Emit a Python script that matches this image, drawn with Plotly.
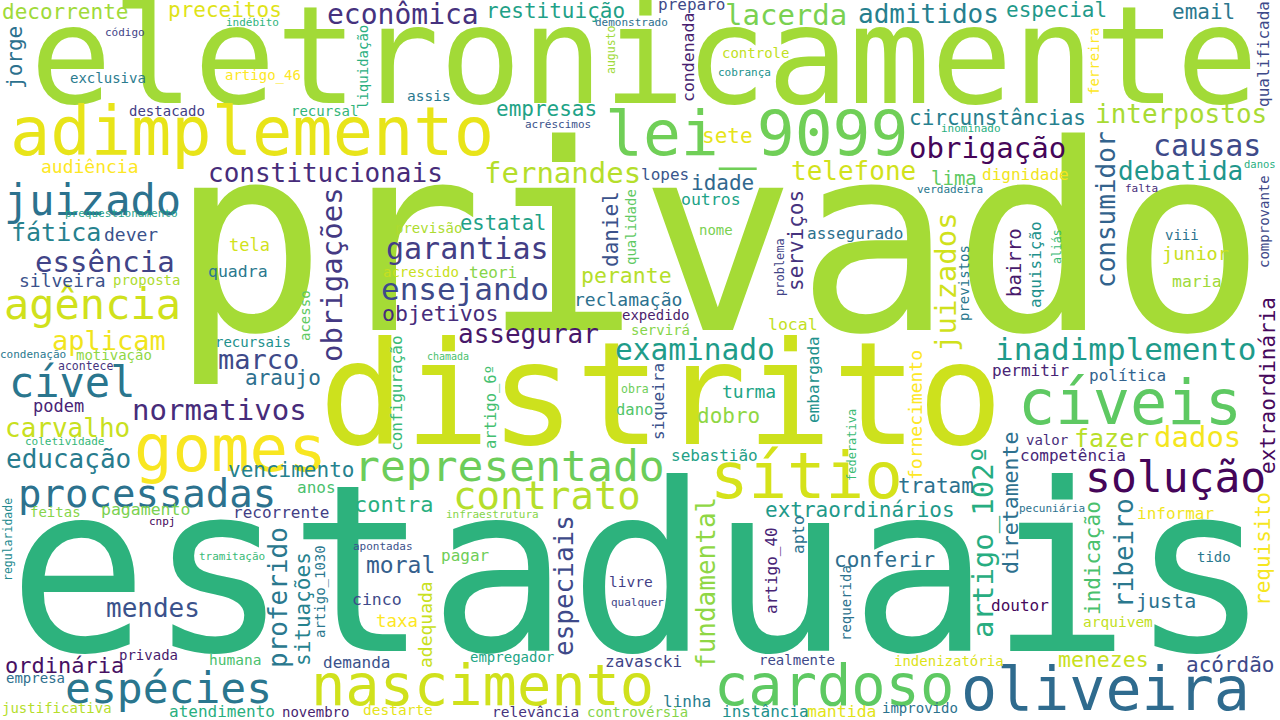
import plotly.graph_objects as go

WORDS = ["decorrente","preceitos","econômica","indébito","código","jorge","exclusiva","artigo_46","liquidação","assis",
"adimplemento","destacado","recursal","audiência","constitucionais","juizado","prequestionamento","fática","dever","obrigações",
"previsão","restituição","preparo","lacerda","demonstrado","condenada","augusto","controle","cobrança","empresas",
"acréscimos","lei_9099","sete","fernandes","telefone","lopes","idade","daniel","qualidade","outros",
"serviços","estatal","nome","assegurado","eletronicamente","admitidos","especial","email","qualificada","ferreira",
"circunstâncias","interpostos","inominado","obrigação","causas","consumidor","debatida","lima","dignidade","danos",
"verdadeira","falta","comprovante","viii","juizados","aquisição","bairro","aliás","junior","maria",
"previstos","extraordinária","inadimplemento","permitir","política","cíveis","solução","fazer","dados","valor",
"competência","essência","tela","silveira","proposta","quadra","agência","aplicam","condenação","motivação",
"acontece","cível","normativos","podem","carvalho","coletividade","educação","gomes","garantias","acrescido",
"teori","ensejando","objetivos","perante","reclamação","expedido","servirá","local","assegurar","examinado",
"chamada","embargada","artigo_6º","siqueira","obra","turma","dano","dobro","problema","federativa",
"sebastião","sítio","representado","configuração","acesso","recursais","marco","araujo","vencimento","privado",
"distrito","processadas","anos","contra","feitas","pagamento","recorrente","cnpj","regularidade","estaduais",
"tramitação","apontadas","moral","mendes","proferido","situações","artigo_1030","cinco","adequada","taxa",
"ordinária","privada","humana","demanda","espécies","empresa","justificativa","atendimento","novembro","destarte",
"nascimento","contrato","infraestrutura","pagar","especiais","livre","qualquer","fundamental","artigo_40","apto",
"requerida","empregador","zavascki","realmente","linha","relevância","controvérsia","cardoso","instância","mantida",
"extraordinários","tratam","conferir","artigo_102º","diretamente","pecuniária","indicação","ribeiro","informar","requisito",
"tido","justa","doutor","arquivem","indenizatória","menezes","acórdão","oliveira","improvido","fornecimento"]

WEIGHT = [21,21,28,11,11,21,14,14,14,14.5,
67,14,14,18,26,42,11,25,18,29,
14,21,16,29,11,16.5,11.5,14,11,21,
11,63,21,29,26,16,21,21,14,16.5,
21,20.5,14,16,136,26,21,21,16,14,
21,26,11,29,30,26,26,19,16,10.5,
11,11,14,14,29,16,19,11.5,18.5,16.5,
14,21,31,16,16,62,43,25,29,14,
16,29,17,18,14,16.5,42,27,11,14,
11.5,42,29,17,26,11,26,64,30,14,
16,31,21.5,21.5,18,14,14,16.5,26,29.5,
10,16,15.5,16,11.5,18,15.5,21,12,12,
16,64,43,16,14,14,27,21,21,260,
142,39,16,22,14,16.5,16,11,11.5,233,
11,11,23,26,26,21,14,16.5,18,17.5,
22,14,14.5,16,43,14,14,16,14,14.5,
57,39,11,16,26,14.5,11,26,16,16,
14,14,16,14,16,14.5,14,57,16,16.5,
21,21,21,29,21.5,11,21,26,16,21,
14,20,16,14.5,14,21.5,21,60,14,18]

POS_X = [65,225,403,252,125,15,108,263,363,429,
252,167,324,90,325,92,121,56,131,332,
428,555,691,786,631,688,611,755,744,546,
558,756,727,562,853,665,722,611,631,711,
796,503,716,855,644,928,1056,1203,1263,1094,
997,1181,971,987,1207,1106,1180,954,1025,1260,
950,1141,1264,1182,946,1035,1014,1057,1195,1197,
964,1268,1125,1030,1127,1130,1175,1111,1197,1047,
1073,105,249,62,146,238,92,109,33,114,
85,72,219,58,67,64,68,230,467,421,
493,465,440,626,628,655,660,793,528,695,
448,813,491,658,635,749,634,728,780,852,
714,806,509,396,305,253,258,283,291,718,
661,147,316,393,55,145,281,162,8,639,
232,383,400,153,278,303,320,377,425,397,
64,148,235,356,168,35,57,222,315,398,
482,547,492,465,564,631,637,706,771,798,
846,512,643,797,687,535,637,834,765,842,
860,936,884,983,1010,1052,1093,1124,1175,1263,
1214,1166,1020,1118,949,1103,1230,1105,920,915]

POS_Y = [12,10,14,22,32,58,78,75,67,96,
132,111,111,166,173,200,213,232,234,275,
228,11,4,15,22,58,50,53,72,109,
124,133,136,173,171,174,183,229,227,199,
241,223,230,233,56,14,10,12,54,62,
118,114,128,148,145,210,171,178,174,164,
189,188,222,235,282,265,263,247,253,281,
283,386,349,370,375,402,477,438,437,440,
455,262,245,280,280,271,304,340,354,355,
366,382,410,406,428,441,459,449,248,272,
272,289,313,275,299,315,330,324,334,350,
356,380,407,402,389,391,410,416,267,445,
455,476,466,393,316,342,359,378,470,240,
394,493,487,504,512,509,512,521,540,570,
556,546,565,608,598,609,592,599,625,621,
665,655,660,662,688,678,708,711,712,710,
685,495,514,555,586,582,602,583,571,535,
603,657,661,660,701,712,712,685,711,711,
510,486,560,542,503,508,558,553,513,549,
557,601,605,622,661,659,665,689,708,415]

VERTICAL = {"jorge","liquidação","obrigações","condenada","augusto","daniel","qualidade","serviços","qualificada","ferreira",
"consumidor","comprovante","juizados","aquisição","bairro","aliás","previstos","extraordinária","embargada","artigo_6º",
"siqueira","problema","federativa","configuração","acesso","regularidade","proferido","situações","artigo_1030","adequada",
"especiais","fundamental","artigo_40","apto","requerida","artigo_102º","diretamente","indicação","ribeiro","requisito","fornecimento"}

COLORS = ["#a0da39","#dfe318","#46327e","#2fb47c","#414487","#2c718e","#2a7b8e","#fde725","#29af7f","#2a788e",
"#e8e419","#433e85","#34b679","#fde725","#472c7a","#2c728e","#1fa088","#26828e","#3b528b","#443983",
"#addc30","#1fa187","#3e4a89","#7ad151","#2d708e","#481f70","#a0da39","#c2df23","#21918c","#20a386",
"#3b528b","#70cf57","#e7e419","#b5de2b","#d2e21b","#39568c","#31688e","#3b528b","#5ec962","#20a386",
"#46337e","#1fa187","#7ad151","#2c718e","#a2da37","#277f8e","#1f9a8a","#2a788e","#3e4a89","#fde725",
"#27808e","#a8db34","#29af7f","#450559","#3e4a89","#33638d","#1f968b","#5ec962","#f1e51d","#29af7f",
"#2a788e","#472d7b","#3e4a89","#2c728e","#d0e11c","#21918c","#481a6c","#3bbb75","#c8e020","#a0da39",
"#2a788e","#46085c","#1e9b8a","#482475","#33638d","#5ec962","#450559","#b8de29","#f4e61e","#472d7b",
"#482677","#414487","#d2e21b","#3b528b","#addc30","#2a788e","#d0e11c","#f1e51d","#2a788e","#8fd744",
"#46337e","#2a768e","#472c7a","#482475","#c8e020","#35b779","#287c8e","#f8e621","#433e85","#c8e020",
"#86d549","#3e4a89","#472d7b","#b5de2b","#2c718e","#4b1d6c","#86d549","#c2df23","#48186a","#1e9c89",
"#4ac16d","#21918c","#44bf70","#3b528b","#6ece58","#21a585","#52c569","#8fd744","#414487","#3bbb75",
"#1fa187","#d5e21a","#6ccd5a","#3bbb75","#5ec962","#21918c","#3e4a89","#2d708e","#26828e","#a5db36",
"#cde11d","#2c728e","#4ac16d","#29af7f","#86d549","#7ad151","#433e85","#46085c","#23898e","#2db27d",
"#3aba76","#3b528b","#34608d","#3b528b","#2a788e","#26828e","#2a788e","#3e4a89","#c8e020","#fde725",
"#471063","#481a6c","#4ac16d","#3b528b","#2a768e","#2d708e","#b5de2b","#29af7f","#481f70","#e5e419",
"#d0e11c","#b5de2b","#86d549","#6ece58","#3e4a89","#433e85","#414487","#8fd744","#482475","#2c728e",
"#2c728e","#21a585","#414487","#3e4a89","#287c8e","#46337e","#86d549","#5ec962","#21918c","#e2e418",
"#1f9a8a","#2c718e","#2e6e8e","#27ad81","#2d708e","#2c728e","#4ac16d","#2a788e","#f1e51d","#f6e620",
"#2a788e","#2c728e","#46085c","#c2df23","#dde318","#c8e020","#3e4a89","#2f6b8e","#2c728e","#fde725"]

FONT = "DejaVu Sans Mono"

fig = go.Figure()
fig.add_trace(go.Scatter(x=[], y=[], mode="markers", showlegend=False, hoverinfo="skip"))

# draw the largest words first so smaller words stay legible on top
order = sorted(range(len(WORDS)), key=lambda i: -WEIGHT[i])
annotations = []
for i in order:
    w = WORDS[i]
    annotations.append(dict(
        text=w, x=POS_X[i], y=POS_Y[i], xref="x", yref="y", showarrow=False,
        xanchor="center", yanchor="middle",
        textangle=-90 if w in VERTICAL else 0,
        font=dict(family=FONT, size=WEIGHT[i], color=COLORS[i]),
        borderpad=0,
    ))

fig.update_layout(
    width=1280, height=720,
    margin=dict(l=0, r=0, t=0, b=0),
    paper_bgcolor="white", plot_bgcolor="white",
    xaxis=dict(range=[0, 1280], visible=False, fixedrange=True),
    yaxis=dict(range=[720, 0], visible=False, fixedrange=True),
    annotations=annotations,
    showlegend=False,
)

fig.write_html(
    "out.html",
    config={"displayModeBar": False},
    post_script="document.body.style.margin='0';document.body.style.overflow='hidden';",
)
